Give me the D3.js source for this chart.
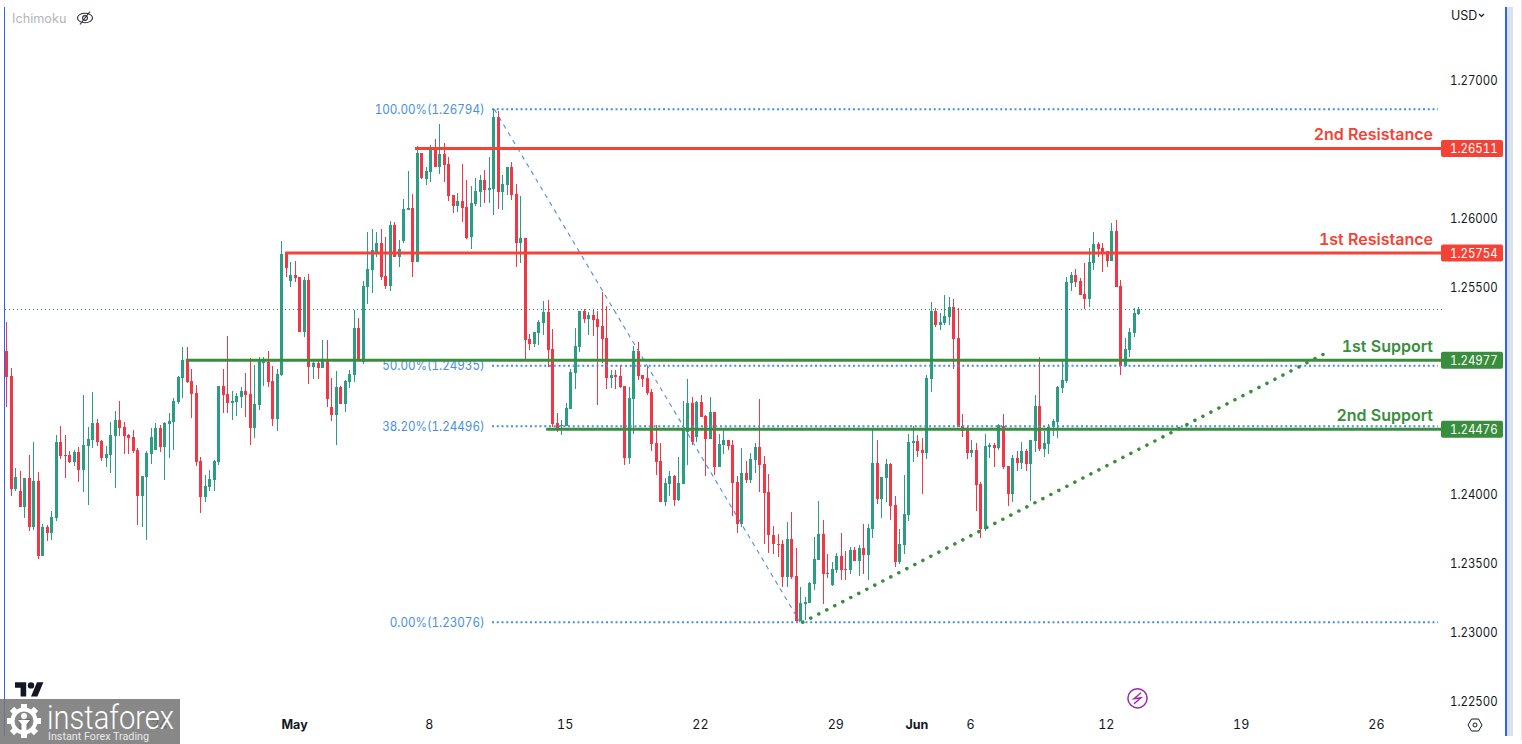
<!DOCTYPE html>
<html lang="en">
  <head>
    <meta charset="utf-8">
    <title>GBP/USD levels</title>
    <script src="https://d3js.org/d3.v7.min.js"></script>
    <style>
      html, body { margin: 0; padding: 0; background: #fff; overflow: hidden; }
      svg { display: block; font-family: Inter, "Liberation Sans", sans-serif; font-variant-numeric: tabular-nums; }
    </style>
  </head>
<body>
  <svg id="chart" width="1522" height="744"></svg>
  <script>

  // candles, one entry per 4h bar
  var opens = [
    1.25040,1.24859,1.24042,1.24025,1.23911,1.24119,1.23766,1.24097,1.23556,1.23764,
    1.23723,1.23832,1.24380,1.24286,1.24286,1.24235,1.24308,1.24177,1.24351,1.24395,
    1.24518,1.24388,1.24264,1.24286,1.24424,1.24540,1.24489,1.24431,1.24417,1.24322,
    1.23989,1.24127,1.24293,1.24322,1.24482,1.24344,1.24511,1.24525,1.24670,1.24844,
    1.24975,1.24822,1.24736,1.24243,1.23981,1.24054,1.24105,1.24235,1.24786,1.24728,
    1.24663,1.24670,1.24707,1.24750,1.24728,1.24482,1.24649,1.24953,1.24960,1.24822,
    1.24547,1.24866,1.25751,1.25548,1.25591,1.25577,1.25178,1.25555,1.24924,1.24953,
    1.24917,1.24968,1.24634,1.24576,1.24779,1.24656,1.24815,1.24866,1.25207,1.24960,
    1.25504,1.25627,1.25751,1.25823,1.25584,1.25511,1.25954,1.25722,1.25838,1.26062,
    1.26077,1.25685,1.26476,1.26287,1.26338,1.26505,1.26374,1.26468,1.26396,1.26171,
    1.26091,1.26128,1.26084,1.25867,1.26106,1.26193,1.26280,1.26207,1.26215,1.26737,
    1.26193,1.26244,1.26374,1.26178,1.25823,1.25859,1.25127,1.25091,1.25171,1.25243,
    1.25323,1.25055,1.24518,1.24499,1.24496,1.24620,1.24881,1.25069,1.25330,1.25272,
    1.25301,1.25272,1.25221,1.25134,1.24844,1.24866,1.24859,1.24786,1.24264,1.24692,
    1.25040,1.24866,1.24844,1.24743,1.24373,1.24243,1.23945,1.24076,1.24134,1.23960,
    1.24076,1.24453,1.24663,1.24417,1.24670,1.24569,1.24402,1.24598,1.24199,1.24359,
    1.24395,1.24359,1.24090,1.23786,1.24156,1.24105,1.24250,1.24344,1.24221,1.24018,
    1.23706,1.23641,1.23641,1.23401,1.23677,1.23409,1.23082,1.23206,1.23213,1.23351,
    1.23525,1.23713,1.23430,1.23343,1.23452,1.23554,1.23460,1.23452,1.23597,1.23517,
    1.23612,1.23561,1.23750,1.24228,1.23967,1.24119,1.24221,1.23924,1.23510,1.23634,
    1.23851,1.24373,1.24388,1.24322,1.24301,1.24837,1.25330,1.25229,1.25243,1.25287,
    1.25359,1.25134,1.24496,1.24467,1.24301,1.24322,1.24076,1.23750,1.24344,1.24359,
    1.24337,1.24496,1.24206,1.24003,1.24264,1.24228,1.24315,1.24221,1.24388,1.24641,
    1.24329,1.24366,1.24489,1.24525,1.24772,1.24823,1.25533,1.25591,1.25548,1.25453,
    1.25417,1.25678,1.25816,1.25787,1.25765,1.25693,1.25910,1.25511,1.24931,1.25047,
    1.25171,1.25308
  ];
  var highs = [
    1.25250,1.24917,1.24192,1.24170,1.24119,1.24286,1.24380,1.24163,1.23786,1.23778,
    1.23880,1.24431,1.24496,1.24431,1.24315,1.24322,1.24344,1.24721,1.24489,1.24743,
    1.24547,1.24395,1.24351,1.24525,1.24605,1.24678,1.24525,1.24438,1.24467,1.24337,
    1.24134,1.24315,1.24482,1.24518,1.24504,1.24525,1.24591,1.24700,1.24859,1.25069,
    1.25069,1.24910,1.24793,1.24272,1.24141,1.24177,1.24250,1.24786,1.24910,1.25149,
    1.24750,1.24736,1.24779,1.24881,1.24990,1.24939,1.24997,1.24997,1.25040,1.24931,
    1.24910,1.25838,1.25758,1.25685,1.25693,1.25577,1.25577,1.25598,1.24968,1.24968,
    1.25120,1.25120,1.24844,1.24895,1.24786,1.24830,1.24902,1.25337,1.25279,1.25548,
    1.25903,1.25925,1.25903,1.25925,1.25867,1.25983,1.25975,1.25845,1.26142,1.26345,
    1.26178,1.26526,1.26476,1.26374,1.26534,1.26577,1.26686,1.26548,1.26447,1.26171,
    1.26186,1.26396,1.26280,1.26236,1.26294,1.26316,1.26352,1.26447,1.26795,1.26780,
    1.26316,1.26374,1.26410,1.26251,1.26164,1.25859,1.25168,1.25178,1.25265,1.25403,
    1.25410,1.25200,1.24591,1.24540,1.24663,1.24910,1.25207,1.25330,1.25345,1.25323,
    1.25337,1.25330,1.25468,1.25366,1.24902,1.24902,1.24939,1.24786,1.24779,1.25076,
    1.25105,1.24866,1.24931,1.24765,1.24504,1.24373,1.24119,1.24170,1.24141,1.24272,
    1.24678,1.24837,1.24707,1.24678,1.24721,1.24576,1.24707,1.24598,1.24438,1.24467,
    1.24395,1.24395,1.24134,1.24337,1.24243,1.24301,1.24373,1.24692,1.24279,1.24148,
    1.23771,1.23713,1.23670,1.23800,1.23873,1.23612,1.23329,1.23256,1.23365,1.23692,
    1.23953,1.23815,1.23568,1.23510,1.23575,1.23720,1.23590,1.23619,1.23619,1.23633,
    1.23786,1.23786,1.24467,1.24395,1.24127,1.24257,1.24228,1.23989,1.23750,1.24141,
    1.24438,1.24496,1.24431,1.24409,1.24866,1.25395,1.25352,1.25316,1.25446,1.25432,
    1.25417,1.25352,1.24583,1.24489,1.24395,1.24373,1.24090,1.24438,1.24373,1.24373,
    1.24511,1.24583,1.24206,1.24286,1.24315,1.24380,1.24330,1.24395,1.24721,1.24997,
    1.24460,1.24511,1.24547,1.24786,1.24968,1.25577,1.25613,1.25635,1.25570,1.25678,
    1.25787,1.25903,1.25830,1.25823,1.25765,1.25968,1.25990,1.25555,1.25134,1.25207,
    1.25352,1.25359
  ];
  var lows = [
    1.24636,1.23991,1.24027,1.23911,1.23832,1.23737,1.23745,1.23534,1.23556,1.23665,
    1.23672,1.23810,1.24257,1.24122,1.24228,1.24206,1.24093,1.24018,1.23923,1.24337,
    1.24351,1.24243,1.24199,1.24155,1.24047,1.24424,1.24293,1.24293,1.24300,1.23778,
    1.23764,1.23670,1.24221,1.24322,1.24308,1.24105,1.24264,1.24322,1.24656,1.24700,
    1.24808,1.24554,1.24206,1.23865,1.23945,1.24025,1.24025,1.24213,1.24591,1.24591,
    1.24540,1.24569,1.24627,1.24562,1.24359,1.24409,1.24612,1.24786,1.24780,1.24496,
    1.24460,1.24859,1.25577,1.25504,1.25540,1.25178,1.25142,1.24801,1.24837,1.24837,
    1.24917,1.24634,1.24532,1.24358,1.24656,1.24598,1.24772,1.24815,1.24968,1.24946,
    1.25381,1.25461,1.25722,1.25555,1.25489,1.25475,1.25722,1.25649,1.25823,1.26062,
    1.25577,1.25685,1.26287,1.26244,1.26265,1.26374,1.26323,1.26265,1.26128,1.26041,
    1.26048,1.25975,1.25852,1.25780,1.26091,1.26084,1.26113,1.26113,1.26026,1.26070,
    1.26062,1.26171,1.26135,1.25649,1.25678,1.24968,1.25047,1.25069,1.25083,1.25156,
    1.24922,1.24489,1.24453,1.24431,1.24496,1.24620,1.24765,1.25033,1.25243,1.25156,
    1.25149,1.24649,1.24953,1.24765,1.24772,1.24765,1.24772,1.24214,1.24221,1.24438,
    1.24830,1.24779,1.24721,1.24315,1.24141,1.23945,1.23916,1.23989,1.23916,1.23953,
    1.24076,1.24214,1.24359,1.24380,1.24562,1.24134,1.24402,1.24141,1.24199,1.24293,
    1.24322,1.23844,1.23721,1.23764,1.24083,1.24083,1.24156,1.24018,1.23641,1.23575,
    1.23568,1.23546,1.23329,1.23329,1.23387,1.23076,1.23082,1.23090,1.23213,1.23307,
    1.23525,1.23206,1.23394,1.23336,1.23430,1.23380,1.23380,1.23423,1.23517,1.23409,
    1.23423,1.23380,1.23684,1.23931,1.23829,1.23945,1.23815,1.23474,1.23496,1.23568,
    1.23808,1.24235,1.24272,1.24003,1.24257,1.24743,1.25214,1.25192,1.25229,1.25229,
    1.24910,1.24489,1.24417,1.24257,1.24272,1.23880,1.23684,1.23735,1.24264,1.24199,
    1.24322,1.24185,1.23916,1.23945,1.24170,1.24185,1.24170,1.23953,1.24308,1.24315,
    1.24272,1.24293,1.24424,1.24409,1.24736,1.24808,1.25475,1.25504,1.25446,1.25345,
    1.25359,1.25627,1.25722,1.25613,1.25649,1.25693,1.25504,1.24866,1.24924,1.24997,
    1.25142,1.25301
  ];
  var closes = [
    1.24854,1.24042,1.24127,1.23911,1.24119,1.23766,1.24097,1.23556,1.23764,1.23723,
    1.23836,1.24380,1.24279,1.24279,1.24235,1.24308,1.24177,1.24359,1.24402,1.24518,
    1.24380,1.24264,1.24293,1.24431,1.24540,1.24482,1.24424,1.24409,1.24315,1.23989,
    1.24134,1.24300,1.24417,1.24482,1.24344,1.24518,1.24533,1.24678,1.24852,1.24975,
    1.24815,1.24728,1.24235,1.23981,1.24061,1.24112,1.24243,1.24786,1.24721,1.24663,
    1.24678,1.24714,1.24750,1.24721,1.24482,1.24656,1.24982,1.24975,1.24815,1.24547,
    1.24873,1.25743,1.25642,1.25591,1.25569,1.25178,1.25555,1.24924,1.24953,1.24917,
    1.24975,1.24692,1.24576,1.24779,1.24656,1.24822,1.24873,1.25207,1.24968,1.25511,
    1.25635,1.25772,1.25823,1.25577,1.25511,1.25954,1.25722,1.25780,1.26070,1.26077,
    1.25685,1.26476,1.26294,1.26345,1.26519,1.26374,1.26468,1.26389,1.26164,1.26091,
    1.26128,1.26077,1.25859,1.26113,1.26200,1.26280,1.26207,1.26222,1.26737,1.26193,
    1.26251,1.26374,1.26171,1.25823,1.25859,1.25120,1.25091,1.25178,1.25250,1.25323,
    1.25047,1.24511,1.24475,1.24506,1.24627,1.24888,1.25076,1.25330,1.25272,1.25301,
    1.25265,1.25214,1.25127,1.24844,1.24866,1.24852,1.24779,1.24264,1.24699,1.25040,
    1.24859,1.24837,1.24736,1.24366,1.24235,1.23945,1.24083,1.24134,1.23960,1.24083,
    1.24475,1.24663,1.24380,1.24670,1.24562,1.24402,1.24598,1.24199,1.24366,1.24395,
    1.24351,1.24083,1.23786,1.24156,1.24105,1.24257,1.24344,1.24214,1.24011,1.23706,
    1.23641,1.23634,1.23401,1.23677,1.23401,1.23082,1.23213,1.23220,1.23358,1.23532,
    1.23713,1.23423,1.23423,1.23460,1.23554,1.23452,1.23452,1.23597,1.23517,1.23612,
    1.23561,1.23757,1.24228,1.23967,1.24127,1.24221,1.23916,1.23510,1.23641,1.23858,
    1.24380,1.24388,1.24315,1.24301,1.24844,1.25330,1.25229,1.25250,1.25294,1.25359,
    1.25127,1.24489,1.24460,1.24301,1.24322,1.24069,1.23750,1.24351,1.24359,1.24337,
    1.24504,1.24199,1.24003,1.24264,1.24228,1.24315,1.24221,1.24395,1.24641,1.24329,
    1.24373,1.24489,1.24533,1.24779,1.24830,1.25540,1.25591,1.25540,1.25446,1.25417,
    1.25685,1.25816,1.25780,1.25758,1.25693,1.25910,1.25504,1.24931,1.25055,1.25178,
    1.25316,1.25345
  ];

  var priceTicks = [1.27, 1.265, 1.26, 1.255, 1.25, 1.245, 1.24, 1.235, 1.23, 1.225];
  // 1.265 and 1.25 and 1.245 sit under the level badges, so they are not printed
  var hiddenPriceTicks = [1.265, 1.25, 1.245];

  var timeTickBars = [3.8, 33.8, 63.8, 93.7, 123.8, 153.8, 183.8, 201.8, 213.7, 243.8, 273.7, 303.7];
  var timeTickLabels = ["17", "24", "May", "8", "15", "22", "29", "Jun", "6", "12", "19", "26"];
  var boldTimeLabels = ["May", "Jun"];

  var levelNames = ["2nd Resistance", "1st Resistance", "1st Support", "2nd Support"];
  var levelPrices = [1.26511, 1.25754, 1.24977, 1.24476];
  var levelStartBars = [90.6, 61.8, 39.8, 119.7];

  var fibNames = ["100.00%", "50.00%", "38.20%", "0.00%"];
  var fibPrices = [1.26794, 1.24935, 1.24496, 1.23076];

  var fibLegBars = [108.2, 176];
  var fibLegPrices = [1.26794, 1.23076];
  var trendBars = [176.6, 292.6];
  var trendPrices = [1.23076, 1.25027];
  var lastPrice = 1.25345;

  var red = "#f23645", green = "#2a9d82";
  var levelRed = "#f44336", levelGreen = "#388e3c", fibBlue = "#4a8fe0";

  var svg = d3.select("#chart");

  var x = d3.scaleLinear().domain([0, 251]).range([6.33, 1138.3]);
  var y = d3.scaleLinear().domain([1.225, 1.27]).range([701.7, 80.7]);

  // the tabular digits come out too wide, pull them in to the reference width
  function squeeze(sel, k) {
    sel.each(function () {
      d3.select(this)
        .attr("textLength", this.getComputedTextLength() * k)
        .attr("lengthAdjust", "spacingAndGlyphs");
    });
  }

  // frame: thin blue rules and the grey strip on the right
  svg.append("rect").attr("x", 1507).attr("y", 7).attr("width", 6).attr("height", 729).attr("fill", "#dde1ea");
  svg.append("rect").attr("x", 1505).attr("y", 7).attr("width", 2).attr("height", 729).attr("fill", "#2f62f5");
  svg.append("rect").attr("x", 4).attr("y", 7).attr("width", 1).attr("height", 729).attr("fill", "#2f62f5");
  svg.append("rect").attr("x", 1521).attr("y", 0).attr("width", 1).attr("height", 740).attr("fill", "#e6e6e6");

  // candles
  var bars = d3.range(opens.length);
  var candles = svg.append("g").attr("shape-rendering", "crispEdges");

  candles.selectAll("line").data(bars).enter().append("line")
    .attr("x1", function (i) { return Math.round(x(i)) + 0.5; })
    .attr("x2", function (i) { return Math.round(x(i)) + 0.5; })
    .attr("y1", function (i) { return y(highs[i]); })
    .attr("y2", function (i) { return y(lows[i]); })
    .attr("stroke", function (i) { return closes[i] >= opens[i] ? green : red; });

  candles.selectAll("rect").data(bars).enter().append("rect")
    .attr("x", function (i) { return Math.round(x(i)) - 1; })
    .attr("width", 3)
    .attr("y", function (i) { return y(Math.max(opens[i], closes[i])); })
    .attr("height", function (i) { return Math.max(1, Math.abs(y(opens[i]) - y(closes[i]))); })
    .attr("fill", function (i) { return closes[i] >= opens[i] ? green : red; });

  // last price line
  svg.append("line")
    .attr("x1", 5).attr("x2", 1442)
    .attr("y1", Math.round(y(lastPrice)) + 0.5).attr("y2", Math.round(y(lastPrice)) + 0.5)
    .attr("stroke", "#2a8f82").attr("stroke-width", 1).attr("stroke-dasharray", "1 3");

  // fib retracement
  svg.selectAll(".fib").data(fibPrices).enter().append("line")
    .attr("class", "fib")
    .attr("x1", 492).attr("x2", 1438)
    .attr("y1", function (d) { return y(d); })
    .attr("y2", function (d) { return y(d); })
    .attr("stroke", fibBlue).attr("stroke-width", 2).attr("stroke-dasharray", "2 2.75");

  svg.selectAll(".fibLabel").data(fibPrices).enter().append("text")
    .attr("class", "fibLabel")
    .attr("x", 484.5)
    .attr("y", function (d) { return y(d) + 4.5; })
    .attr("text-anchor", "end")
    .attr("font-size", 12.8)
    .attr("fill", fibBlue)
    .text(function (d, i) { return fibNames[i] + "(" + d.toFixed(5) + ")"; })
    .call(squeeze, 0.91);

  svg.append("line")
    .attr("x1", x(fibLegBars[0])).attr("y1", y(fibLegPrices[0]))
    .attr("x2", x(fibLegBars[1])).attr("y2", y(fibLegPrices[1]))
    .attr("stroke", fibBlue).attr("stroke-width", 1.1).attr("stroke-dasharray", "4.5 4.5");

  // rising support
  svg.append("line")
    .attr("x1", x(trendBars[0])).attr("y1", y(trendPrices[0]))
    .attr("x2", x(trendBars[1])).attr("y2", y(trendPrices[1]))
    .attr("stroke", levelGreen).attr("stroke-width", 3.5).attr("stroke-linecap", "round").attr("stroke-dasharray", "0.1 8.9");

  // support and resistance
  function levelColor(i) { return i < 2 ? levelRed : levelGreen; }

  svg.selectAll(".level").data(levelPrices).enter().append("line")
    .attr("class", "level")
    .attr("x1", function (d, i) { return x(levelStartBars[i]); })
    .attr("x2", 1442)
    .attr("y1", function (d) { return y(d) + 0.3; })
    .attr("y2", function (d) { return y(d) + 0.3; })
    .attr("stroke", function (d, i) { return levelColor(i); })
    .attr("stroke-width", 3);

  svg.selectAll(".levelName").data(levelPrices).enter().append("text")
    .attr("class", "levelName")
    .attr("x", 1433)
    .attr("y", function (d) { return y(d) - 8; })
    .attr("text-anchor", "end")
    .attr("font-size", 16)
    .attr("font-weight", 600)
    .attr("fill", function (d, i) { return levelColor(i); })
    .text(function (d, i) { return levelNames[i]; });

  // axes
  var yAxis = d3.axisRight(y)
    .tickValues(priceTicks.filter(function (d) { return hiddenPriceTicks.indexOf(d) < 0; }))
    .tickSize(0)
    .tickFormat(function (d) { return d.toFixed(5); });
  var yG = svg.append("g").attr("transform", "translate(1450,0)").call(yAxis);
  yG.select(".domain").remove();
  yG.selectAll("text").attr("x", 0).attr("font-size", 12.8).attr("font-family", "Inter").attr("fill", "#131722")
    .call(squeeze, 0.895);

  var xAxis = d3.axisBottom(x)
    .tickValues(timeTickBars)
    .tickSize(0)
    .tickFormat(function (d, i) { return timeTickLabels[i]; });
  var xG = svg.append("g").attr("transform", "translate(0,718)").call(xAxis);
  xG.select(".domain").remove();
  xG.selectAll("text")
    .attr("y", 0).attr("dy", "0.85em")
    .attr("font-size", 12.5).attr("font-family", "Inter").attr("fill", "#131722")
    .attr("font-weight", function (d, i) { return boldTimeLabels.indexOf(timeTickLabels[i]) >= 0 ? 700 : 400; });

  // level badges on the price scale
  var badges = svg.selectAll(".badge").data(levelPrices).enter().append("g")
    .attr("class", "badge")
    .attr("transform", function (d) { return "translate(1441," + (y(d) + 0.3) + ")"; });
  badges.append("rect")
    .attr("x", 0).attr("y", -8.5).attr("width", 62).attr("height", 17).attr("rx", 2)
    .attr("fill", function (d, i) { return levelColor(i); });
  badges.append("text")
    .attr("x", 9).attr("y", 4.6)
    .attr("font-size", 12.8)
    .attr("fill", "#fff")
    .text(function (d) { return d.toFixed(5); })
    .call(squeeze, 0.895);

  // header bits
  svg.append("text").attr("x", 12).attr("y", 23).attr("font-size", 12.7).attr("fill", "#b2b5be").text("Ichimoku");
  var eye = svg.append("g").attr("transform", "translate(85,18)").attr("fill", "none").attr("stroke", "#2a2e39").attr("stroke-width", 1.1);
  eye.append("ellipse").attr("rx", 7.5).attr("ry", 4.8);
  eye.append("circle").attr("r", 2.4);
  eye.append("line").attr("x1", -5).attr("y1", 6.5).attr("x2", 5).attr("y2", -6.5);

  svg.append("text").attr("x", 1451).attr("y", 20).attr("font-size", 12.5).attr("fill", "#131722").text("USD");
  svg.append("path").attr("d", "M1479 14 l2.5 2.5 l2.5 -2.5").attr("fill", "none").attr("stroke", "#131722").attr("stroke-width", 1.2);

  // bolt marker
  var bolt = svg.append("g").attr("transform", "translate(1137.5,698.3)");
  bolt.append("circle").attr("r", 9.6).attr("fill", "none").attr("stroke", "#9c27b0").attr("stroke-width", 1.5);
  bolt.append("path").attr("d", "M3.5 -5.5 L-3.5 0.5 L3.5 -0.5 L-3.5 5.5").attr("fill", "none").attr("stroke", "#9c27b0").attr("stroke-width", 1.4);

  // settings cog
  svg.append("path").attr("transform", "translate(1475,725)")
    .attr("d", "M-7 0 L-3.5 -6 L3.5 -6 L7 0 L3.5 6 L-3.5 6 Z")
    .attr("fill", "none").attr("stroke", "#131722").attr("stroke-width", 1);
  svg.append("circle").attr("cx", 1475).attr("cy", 725).attr("r", 2)
    .attr("fill", "none").attr("stroke", "#131722").attr("stroke-width", 1);

  // tradingview mark
  var tv = svg.append("g").attr("transform", "translate(15,679) scale(0.8)").attr("fill", "#131722");
  tv.append("path").attr("d", "M14 22H7V11H0V4h14v18zM28 22h-8l7.5-18h8L28 22z");
  tv.append("circle").attr("cx", 20).attr("cy", 8).attr("r", 4);

  // instaforex watermark, the 17 and 24 labels stay faintly visible under it
  svg.append("rect").attr("x", 0).attr("y", 699).attr("width", 180).attr("height", 45)
    .attr("fill", "#767676").attr("fill-opacity", 0.87);
  var cog = svg.append("g").attr("transform", "translate(24,721)").attr("fill", "#fff");
  d3.range(8).forEach(function (k) {
    cog.append("rect").attr("x", -3).attr("y", -17).attr("width", 6).attr("height", 7)
      .attr("transform", "rotate(" + (k * 45) + ")");
  });
  cog.append("circle").attr("r", 11.5).attr("fill", "none").attr("stroke", "#fff").attr("stroke-width", 4);
  cog.append("circle").attr("cy", -5).attr("r", 3);
  cog.append("path").attr("d", "M-6 -1 L6 -1 L2.5 3 L2.5 11 L-2.5 11 L-2.5 3 Z");

  svg.append("text").attr("x", 47).attr("y", 729)
    .attr("font-family", "Roboto").attr("font-weight", 300).attr("font-size", 33)
    .attr("textLength", 127).attr("lengthAdjust", "spacingAndGlyphs")
    .attr("fill", "#fff").text("instaforex");
  svg.append("text").attr("x", 48).attr("y", 740)
    .attr("font-family", "Roboto").attr("font-size", 11.5)
    .attr("textLength", 101).attr("lengthAdjust", "spacingAndGlyphs")
    .attr("fill", "#e8e8e8").text("Instant Forex Trading");

  </script>
</body>
</html>
